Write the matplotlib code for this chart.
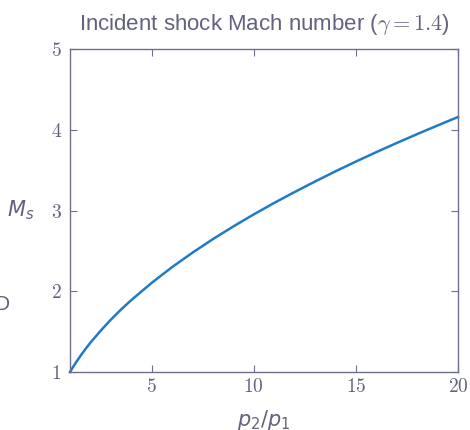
import numpy as np
import matplotlib
matplotlib.use('Agg')
from matplotlib import pyplot as plt

# Values
pressure_ratio = [1.0, 1.05, 1.1, 1.2, 1.3, 1.5, 1.75, 2.0, 2.5, 3.0, 3.5, 4.0, 5.0, 6.0, 7.0, 8.0,
                  9.0, 10.0, 11.0, 12.0, 13.0, 14.0, 15.0, 16.0, 17.0, 18.0, 19.0, 20.0]
mach_shock = [1.000, 1.021, 1.042, 1.082, 1.121, 1.195, 1.282, 1.363, 1.511, 1.648, 1.774, 1.890,
              2.104, 2.299, 2.478, 2.646, 2.803, 2.952, 3.094, 3.229, 3.359, 3.485, 3.606, 3.723,
              3.836, 3.946, 4.053, 4.158]

x_ticks = [5, 10, 15, 20]
y_ticks = [1, 2, 3, 4, 5]

txt_col = '#62627f'
edge_col = '#6e6e8e'
line_col = '#1f7bc6'

plt.rcParams['mathtext.fontset'] = 'cm'
plt.rcParams['font.family'] = ['Liberation Sans', 'DejaVu Sans']

fig = plt.figure(figsize=(4.7, 4.3), dpi=100)
ax = fig.add_axes([70/470, 1-372/430, 388/470, 323/430])

ax.plot(pressure_ratio, mach_shock, color=line_col, lw=1.8, clip_on=False)
ax.set_xlim(1, 20)
ax.set_ylim(1, 5)
ax.set_xticks(x_ticks)
ax.set_yticks(y_ticks)
ax.set_xticklabels(['$%d$' % v for v in x_ticks])
ax.set_yticklabels(['$%d$' % v for v in y_ticks])
ax.tick_params(direction='in', top=True, right=True, length=5, width=0.8,
               color=edge_col, labelcolor=txt_col, labelsize=14)
ax.tick_params(axis='x', pad=4)
ax.tick_params(axis='y', pad=6)
for s in ax.spines.values():
    s.set_color(edge_col)
    s.set_linewidth(1.0)

ax.set_xlabel('$p_2/p_1$', color=txt_col, fontsize=15, math_fontfamily='dejavusans')
ax.xaxis.set_label_coords(0.5, -0.11)
ax.set_ylabel('$M_s$', color=txt_col, fontsize=15, rotation=0, va='center', ha='center',
              math_fontfamily='dejavusans')
ax.yaxis.set_label_coords(-0.126, 0.5)
ax.set_title(r'Incident shock Mach number ($\gamma = 1.4$)', color=txt_col,
             fontsize=16, pad=14)

# clipped glyph at the left edge
fig.text(-0.012, 1-305/430, 'D', color=txt_col, fontsize=15, va='center', ha='left')

fig.savefig('out.png', dpi=100)
